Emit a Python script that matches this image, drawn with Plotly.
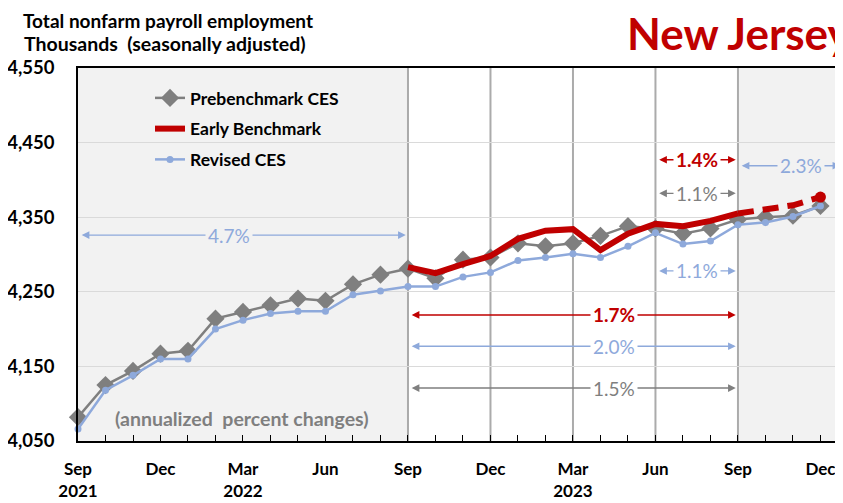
import plotly.graph_objects as go

# ---------------- data ----------------
months = ["Sep 2021", "Oct 2021", "Nov 2021", "Dec 2021", "Jan 2022", "Feb 2022", "Mar 2022",
          "Apr 2022", "May 2022", "Jun 2022", "Jul 2022", "Aug 2022", "Sep 2022", "Oct 2022",
          "Nov 2022", "Dec 2022", "Jan 2023", "Feb 2023", "Mar 2023", "Apr 2023", "May 2023",
          "Jun 2023", "Jul 2023", "Aug 2023", "Sep 2023", "Oct 2023", "Nov 2023", "Dec 2023"]

prebenchmark = [4082, 4125, 4144, 4167, 4171, 4214, 4223, 4232, 4241, 4238, 4260, 4273, 4281, 4268,
                4293, 4296, 4315, 4311, 4315, 4325, 4338, 4335, 4328, 4335, 4347, 4350, 4352, 4365]

revised = [4066, 4118, 4138, 4160, 4160, 4200, 4212, 4221, 4224, 4224, 4246, 4251, 4257, 4257,
           4270, 4276, 4292, 4296, 4301, 4296, 4311, 4329, 4314, 4318, 4340, 4343, 4351, 4365]

early_months = months[12:]
early_benchmark = [4283, 4275, 4287, 4298, 4321, 4332, 4334, 4306, 4328, 4341, 4338, 4345, 4355,
                   4360, 4366, 4377]

tick_labels = {"Sep 2021": "Sep<br>2021", "Dec 2021": "Dec", "Mar 2022": "Mar<br>2022", "Jun 2022": "Jun",
               "Sep 2022": "Sep", "Dec 2022": "Dec", "Mar 2023": "Mar<br>2023", "Jun 2023": "Jun",
               "Sep 2023": "Sep", "Dec 2023": "Dec"}
y_ticks = [4050, 4150, 4250, 4350, 4450, 4550]

# annualized percent change arrows: (label, start month, end month, y level, colour, bold, text x)
changes = [
    ("4.7%", "Sep 2021", "Sep 2022", 4326, "blue", False, 5.5),
    ("1.7%", "Sep 2022", "Sep 2023", 4219, "red", True, 19.5),
    ("2.0%", "Sep 2022", "Sep 2023", 4177, "blue", False, 19.5),
    ("1.5%", "Sep 2022", "Sep 2023", 4121, "grey", False, 19.5),
    ("1.4%", "Jun 2023", "Sep 2023", 4427, "red", True, 22.5),
    ("1.1%", "Jun 2023", "Sep 2023", 4382, "grey", False, 22.5),
    ("1.1%", "Jun 2023", "Sep 2023", 4278, "blue", False, 22.5),
    ("2.3%", "Sep 2023", None, 4419, "blue", False, 26.3),
]

# ---------------- style ----------------
GREY = "#7F7F7F"
RED = "#C00000"
BLUE = "#8EA9DB"
SHADE = "#F2F2F2"
VLINE = "#ABABAB"
FONT = "Lato"
colmap = {"grey": GREY, "red": RED, "blue": BLUE}
XMAX = 27.82

# page body has an 8px margin: figure pixel = window pixel - 8
OFF = 8
W, H = 835, 495
L, R, T, B = 70, 0, 60, 62
pw, ph = W - L - R, H - T - B


def px(xw):
    return (xw - OFF - L) / pw


def py(yw):
    return (H - B - (yw - OFF)) / ph


fig = go.Figure()

fig.add_trace(go.Scatter(
    x=months, y=prebenchmark, name="Prebenchmark CES", mode="lines+markers",
    line=dict(color=GREY, width=2.5), marker=dict(symbol="diamond", size=14, color=GREY),
    cliponaxis=False, legendrank=1, legendgroup="a"))
fig.add_trace(go.Scatter(
    x=months, y=revised, name="Revised CES", mode="lines+markers",
    line=dict(color=BLUE, width=2.5), marker=dict(symbol="circle", size=7, color=BLUE),
    cliponaxis=False, legendrank=3, legendgroup="c"))
fig.add_trace(go.Scatter(
    x=early_months[:13], y=early_benchmark[:13], name="Early Benchmark", mode="lines",
    line=dict(color=RED, width=6), cliponaxis=False, legendrank=2, legendgroup="b"))
fig.add_trace(go.Scatter(
    x=early_months[12:], y=early_benchmark[12:], name="Early Benchmark (proj)", mode="lines",
    line=dict(color=RED, width=6, dash="16px,9px"), showlegend=False, cliponaxis=False))
fig.add_trace(go.Scatter(
    x=early_months[-1:], y=early_benchmark[-1:], mode="markers", showlegend=False,
    marker=dict(color=RED, size=11), cliponaxis=False))

m_idx = {m: i for i, m in enumerate(months)}

shapes = [
    dict(type="rect", xref="x", yref="paper", x0=0, x1=m_idx["Sep 2022"], y0=0, y1=1,
         fillcolor=SHADE, line_width=0, layer="below"),
    dict(type="rect", xref="x", yref="paper", x0=m_idx["Sep 2023"], x1=XMAX, y0=0, y1=1,
         fillcolor=SHADE, line_width=0, layer="below"),
]
for m in ["Sep 2022", "Dec 2022", "Mar 2023", "Jun 2023", "Sep 2023"]:
    shapes.append(dict(type="line", xref="x", yref="paper", x0=m_idx[m], x1=m_idx[m], y0=0, y1=1,
                       line=dict(color=VLINE, width=2), layer="below"))

annotations = []
for label, s, e, yv, c, bold, tx in changes:
    col = colmap[c]
    x0 = m_idx[s] + 0.08
    x1 = (m_idx[e] - 0.08) if e else XMAX - 0.1
    annotations.append(dict(x=x1, y=yv, ax=x0, ay=yv, xref="x", yref="y", axref="x", ayref="y",
                            text="", showarrow=True, arrowhead=2, arrowside="end+start",
                            arrowsize=1.1, arrowwidth=1.4, arrowcolor=col,
                            standoff=0, startstandoff=0))
    in_shade = tx < m_idx["Sep 2022"] or tx > m_idx["Sep 2023"]
    annotations.append(dict(x=tx, y=yv, xref="x", yref="y", showarrow=False,
                            text=f"<b>{label}</b>" if bold else label,
                            font=dict(family=FONT, size=19, color=col),
                            bgcolor=SHADE if in_shade else "white", borderpad=2))

annotations.append(dict(x=5.95, y=4080, xref="x", yref="y", showarrow=False,
                        text="<b>(annualized\u00a0 percent changes)</b>",
                        font=dict(family=FONT, size=19.5, color=GREY)))
annotations.append(dict(x=px(22), y=py(8), xref="paper", yref="paper", xanchor="left",
                        yanchor="top", showarrow=False, borderpad=0,
                        text="<b>Total nonfarm payroll employment</b>",
                        font=dict(family=FONT, size=19, color="black")))
annotations.append(dict(x=px(22), y=py(44), xref="paper", yref="paper", xanchor="left",
                        yanchor="middle", showarrow=False,
                        text="<b>Thousands\u00a0 (seasonally adjusted)</b>",
                        font=dict(family=FONT, size=19.5, color="black")))
annotations.append(dict(x=px(625), y=py(33), xref="paper", yref="paper", xanchor="left",
                        yanchor="middle", showarrow=False, text="<b>New Jersey</b>",
                        font=dict(family=FONT, size=44, color=RED)))

fig.update_layout(
    width=W, height=H,
    margin=dict(l=L, r=R, t=T, b=B, autoexpand=False),
    paper_bgcolor="white", plot_bgcolor="white",
    font=dict(family=FONT, color="black"),
    shapes=shapes, annotations=annotations,
    legend=dict(x=px(150), y=py(80), xanchor="left", yanchor="top",
                bgcolor="rgba(0,0,0,0)",
                font=dict(family=FONT, size=17.5, color="black", weight="bold"),
                tracegroupgap=5, itemwidth=30),
)

fig.update_xaxes(
    type="category", categoryorder="array", categoryarray=months,
    range=[0, XMAX], showgrid=False, zeroline=False,
    tickmode="array", tickvals=months, ticktext=[tick_labels.get(m, "") for m in months],
    ticks="inside", ticklen=6, tickcolor="black", tickwidth=1,
    showline=True, linecolor="black", linewidth=1.5, mirror=True,
    tickfont=dict(family=FONT, size=17, color="black", weight="bold"), ticklabelstandoff=12,
)
fig.update_yaxes(
    range=[4050, 4550], tickvals=y_ticks, ticktext=[f"{v:,}" for v in y_ticks],
    showgrid=True, gridcolor="#DADADA", gridwidth=1, zeroline=False,
    showline=True, linecolor="black", linewidth=1.5,
    tickfont=dict(family=FONT, size=18.5, color="black", weight="bold"), ticklabelstandoff=18,
)

fig.write_html("out.html")
